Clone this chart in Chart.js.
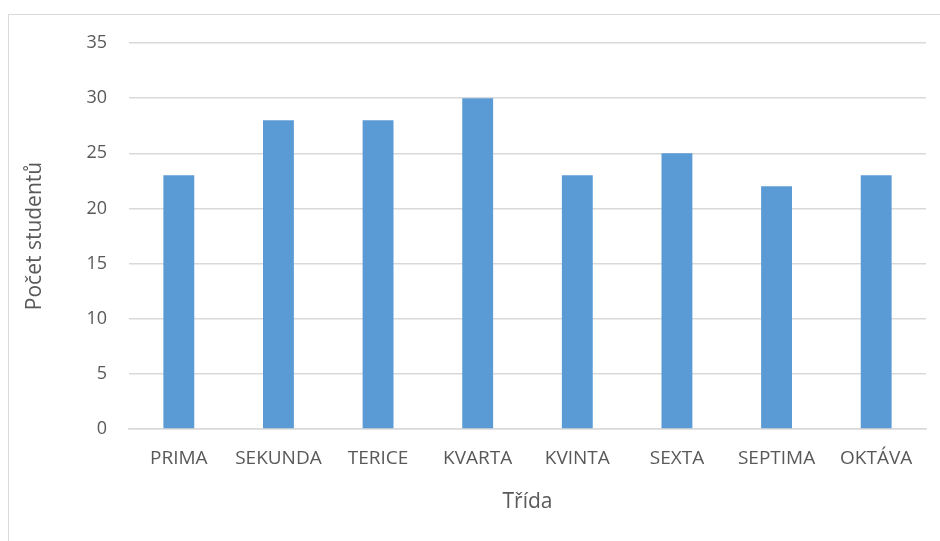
<!DOCTYPE html>
<html>
<head>
<meta charset="utf-8">
<script src="https://cdn.jsdelivr.net/npm/chart.js@4/dist/chart.umd.min.js"></script>
<style>
  html, body { margin: 0; padding: 0; background: #fff; }
  #wrap { position: relative; width: 940px; height: 541px; }
  #frame { position: absolute; left: 8px; top: 14px; width: 940px; height: 540px; border: 1px solid #d9d9d9; box-sizing: border-box; }
  canvas { position: absolute; left: 0; top: 0; }
</style>
</head>
<body>
<div id="wrap">
  <div id="frame"></div>
  <canvas id="chart" width="940" height="541"></canvas>
</div>
<script>
// ******** DATA
var categories = ["PRIMA", "SEKUNDA", "TERICE", "KVARTA", "KVINTA", "SEXTA", "SEPTIMA", "OKTÁVA"];
var students   = [23, 28, 28, 30, 23, 25, 22, 23];

// ******** CHART
var fontFamily = "'Open Sans', 'Liberation Sans', sans-serif";
var textColor = "#595959";

var ctx = document.getElementById("chart").getContext("2d");
new Chart(ctx, {
  type: 'bar',
  data: {
    labels: categories,
    datasets: [{
      label: 'Počet studentů',
      data: students,
      backgroundColor: "#5b9bd5",
      barPercentage: 0.31,
      categoryPercentage: 1.0
    }]
  },
  options: {
    responsive: false,
    animation: false,
    layout: { padding: { left: 18, right: 14, top: 43, bottom: 22 } },
    plugins: {
      legend: { display: false },
      tooltip: { enabled: false }
    },
    scales: {
      x: {
        grid: { display: false, drawTicks: false },
        border: { color: "#d9d9d9", width: 1.5 },
        ticks: { color: textColor, font: { family: fontFamily, size: 19 }, padding: 18, maxRotation: 0 },
        title: { display: true, text: "Třída", color: textColor, font: { family: fontFamily, size: 21 }, padding: { top: 6 } },
        afterFit: function (s) { s.height = 541 - 429 - 22; }
      },
      y: {
        min: 0, max: 35,
        ticks: { stepSize: 5, color: textColor, font: { family: fontFamily, size: 18 }, padding: 22 },
        grid: { color: "#d9d9d9", lineWidth: 1.5, drawTicks: false },
        border: { display: false },
        title: { display: true, text: "Počet studentů", color: textColor, font: { family: fontFamily, size: 21 }, padding: { bottom: 10 } },
        afterFit: function (s) { s.width = 129 - 18; }
      }
    }
  }
});
</script>
</body>
</html>
